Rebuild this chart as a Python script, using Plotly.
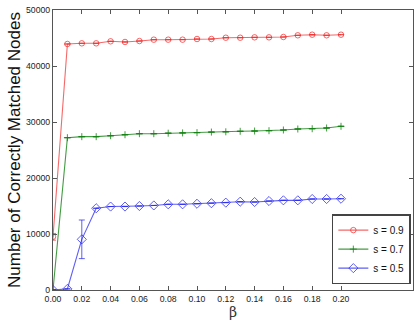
import plotly.graph_objects as go

beta = [0.00, 0.01, 0.02, 0.03, 0.04, 0.05, 0.06, 0.07, 0.08, 0.09, 0.10,
        0.11, 0.12, 0.13, 0.14, 0.15, 0.16, 0.17, 0.18, 0.19, 0.20]

s09 = [9500, 43930, 44050, 44050, 44410, 44290, 44460, 44700, 44700, 44700, 44820,
       44820, 45050, 45050, 45120, 45120, 45180, 45480, 45590, 45480, 45590]
s09_err = [600, None, None, None, None, None, None, None, None, None, None,
           None, None, None, None, None, None, None, None, None, None]

s07 = [0, 27200, 27380, 27380, 27550, 27730, 27910, 27910, 28000, 28050, 28100,
       28200, 28250, 28340, 28390, 28450, 28570, 28750, 28800, 28930, 29230]
s07_err = [None] * 21

s05 = [0, 200, 9050, 14600, 14900, 14900, 15000, 15100, 15300, 15300, 15400,
       15500, 15600, 15770, 15710, 15890, 16010, 16010, 16250, 16250, 16300]
s05_err = [None, None, 3450, None, None, None, None, None, None, None, None,
           None, None, None, None, None, None, None, None, None, None]

xticks = [0.00, 0.02, 0.04, 0.06, 0.08, 0.10, 0.12, 0.14, 0.16, 0.18, 0.20]
xticklabels = ["0.00", "0.02", "0.04", "0.06", "0.08", "0.10", "0.12", "0.14", "0.16", "0.18", "0.20"]
yticks = [0, 10000, 20000, 30000, 40000, 50000]
yticklabels = ["0", "10000", "20000", "30000", "40000", "50000"]

series = [
    ("s = 0.9", s09, s09_err, "rgba(240,40,40,0.7)", "circle-open", 5.5),
    ("s = 0.7", s07, s07_err, "rgba(20,130,20,0.8)", "cross-thin-open", 5),
    ("s = 0.5", s05, s05_err, "rgba(40,40,240,0.75)", "diamond-open", 7),
]

fig = go.Figure()
for name, y, err, col, sym, sz in series:
    fig.add_trace(go.Scatter(
        x=beta, y=y, name=name, mode="lines+markers",
        line=dict(color=col, width=1.1),
        marker=dict(symbol=sym, size=sz, color=col, line=dict(color=col, width=1)),
        error_y=dict(type="data", array=err, visible=True, color=col, thickness=1, width=3),
    ))

axis_common = dict(
    showline=True, linecolor="#555", linewidth=1.2, mirror="ticks",
    ticks="inside", ticklen=4, tickcolor="#555", showgrid=False, zeroline=False,
    tickfont=dict(family="Liberation Sans, Arial", size=8.7, color="#222"),
)

fig.update_layout(
    width=417, height=321,
    margin=dict(l=53, r=4, t=10, b=31),
    paper_bgcolor="white", plot_bgcolor="white",
    xaxis=dict(range=[0, 0.25], tickvals=xticks, ticktext=xticklabels,
               title=dict(text="β", font=dict(family="DejaVu Serif", size=14, color="#333"), standoff=4),
               **axis_common),
    yaxis=dict(range=[0, 50000], tickvals=yticks, ticktext=yticklabels,
               title=dict(text="Number of Correctly Matched Nodes",
                          font=dict(family="Liberation Sans, Arial", size=17, color="#111"), standoff=1),
               **axis_common),
    legend=dict(x=0.994, y=0.021, xanchor="right", yanchor="bottom",
                bgcolor="white", bordercolor="#444", borderwidth=1.5,
                font=dict(family="Liberation Sans, Arial", size=10, color="#111"),
                itemwidth=30, tracegroupgap=0),
    showlegend=True,
)

fig.write_html("out.html")
